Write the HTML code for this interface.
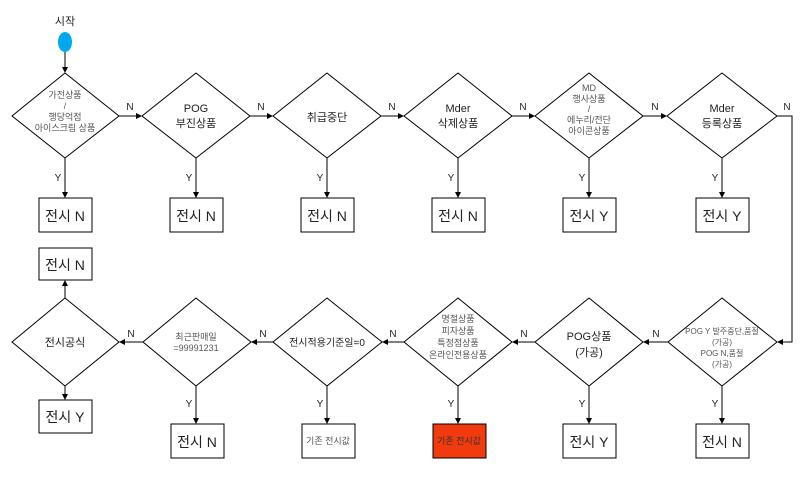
<!DOCTYPE html>
<html><head><meta charset="utf-8"><style>
body{margin:0;background:#fff;width:800px;height:500px;overflow:hidden}
svg{display:block}
text{font-family:"Liberation Sans","Noto Sans CJK KR",sans-serif;fill:#222;text-anchor:middle}
.s{font-size:9px;fill:#555}
.m{font-size:11px}
.b{font-size:14px}
.l{font-size:10px}
</style></head><body>
<svg width="800" height="500" viewBox="0 0 800 500" xmlns="http://www.w3.org/2000/svg">
<defs><marker id="a" markerWidth="6" markerHeight="6" refX="5" refY="3" orient="auto" markerUnits="userSpaceOnUse"><path d="M0,0 L6,3 L0,6z" fill="#000"/></marker></defs>
<g stroke="#000" stroke-width="1" fill="#fff">
<polygon points="65,73 119,116 65,158 12,116"/>
<polygon points="196,73 250,116 196,158 142,116"/>
<polygon points="327,73 381,116 327,158 273,116"/>
<polygon points="458,73 512,116 458,158 404,116"/>
<polygon points="589,73 643,116 589,158 535,116"/>
<polygon points="722,73 777,116 722,158 667,116"/>
<polygon points="722,298 777,342 722,386 668,342"/>
<polygon points="589,298 643,342 589,386 535,342"/>
<polygon points="458,298 512,342 458,386 404,342"/>
<polygon points="327,298 382,342 327,386 273,342"/>
<polygon points="196,298 251,342 196,386 143,342"/>
<polygon points="65,298 119,342 65,386 12,342"/>
<rect x="39" y="198" width="53" height="34"/>
<rect x="170" y="198" width="53" height="34"/>
<rect x="301" y="198" width="53" height="34"/>
<rect x="432" y="198" width="53" height="34"/>
<rect x="563" y="198" width="53" height="34"/>
<rect x="696" y="198" width="53" height="34"/>
<rect x="696" y="424" width="53" height="34"/>
<rect x="563" y="424" width="53" height="34"/>
<rect x="433" y="424" width="53" height="34" fill="#f23a0f"/>
<rect x="302" y="424" width="53" height="34"/>
<rect x="171" y="424" width="53" height="34"/>
<rect x="39" y="400" width="53" height="33"/>
<rect x="39" y="248" width="53" height="32"/>
</g>
<ellipse cx="65" cy="42" rx="7" ry="10" fill="#00a8f0"/>
<g stroke="#000" stroke-width="1" fill="none" marker-end="url(#a)">
<line x1="65" y1="52" x2="65" y2="72"/>
<line x1="119" y1="116" x2="141" y2="116"/>
<line x1="250" y1="116" x2="272" y2="116"/>
<line x1="381" y1="116" x2="403" y2="116"/>
<line x1="512" y1="116" x2="534" y2="116"/>
<line x1="643" y1="116" x2="666" y2="116"/>
<polyline points="777,116 792,116 792,342 778,342"/>
<line x1="65" y1="158" x2="65" y2="197"/>
<line x1="196" y1="158" x2="196" y2="197"/>
<line x1="327" y1="158" x2="327" y2="197"/>
<line x1="458" y1="158" x2="458" y2="197"/>
<line x1="589" y1="158" x2="589" y2="197"/>
<line x1="722" y1="158" x2="722" y2="197"/>
<line x1="668" y1="342" x2="644" y2="342"/>
<line x1="535" y1="342" x2="513" y2="342"/>
<line x1="404" y1="342" x2="383" y2="342"/>
<line x1="273" y1="342" x2="252" y2="342"/>
<line x1="143" y1="342" x2="120" y2="342"/>
<line x1="722" y1="386" x2="722" y2="423"/>
<line x1="589" y1="386" x2="589" y2="423"/>
<line x1="458" y1="386" x2="458" y2="423"/>
<line x1="327" y1="386" x2="327" y2="423"/>
<line x1="196" y1="386" x2="196" y2="423"/>
<line x1="65" y1="386" x2="65" y2="399"/>
<line x1="65" y1="298" x2="65" y2="281"/>
</g>
<text x="65" y="25" class="m">시작</text>
<text x="65" y="98" class="s">가전상품</text>
<text x="65" y="109" class="s">/</text>
<text x="65" y="120" class="s">행당억점</text>
<text x="65" y="131" class="s">아이스크림 상품</text>
<text x="196" y="112" class="m">POG</text>
<text x="196" y="127" class="m">부진상품</text>
<text x="327" y="121" class="m">취급중단</text>
<text x="458" y="112" class="m">Mder</text>
<text x="458" y="127" class="m">삭제상품</text>
<text x="589" y="91" class="s">MD</text>
<text x="589" y="102" class="s">행사상품</text>
<text x="589" y="112" class="s">/</text>
<text x="589" y="123" class="s">에누리/전단</text>
<text x="589" y="134" class="s">아이콘상품</text>
<text x="722" y="112" class="m">Mder</text>
<text x="722" y="127" class="m">등록상품</text>
<text x="722" y="334" class="s" style="font-size:8px">POG Y 발주중단,품절</text>
<text x="722" y="345" class="s" style="font-size:8px">(가공)</text>
<text x="722" y="356" class="s" style="font-size:8px">POG N,품절</text>
<text x="722" y="367" class="s" style="font-size:8px">(가공)</text>
<text x="589" y="340" class="m">POG상품</text>
<text x="589" y="356" class="m">(가공)</text>
<text x="458" y="322" class="s">명절상품</text>
<text x="458" y="334" class="s">피자상품</text>
<text x="458" y="346" class="s">특정점상품</text>
<text x="458" y="358" class="s">온라인전용상품</text>
<text x="327" y="346" class="l">전시적용기준일=0</text>
<text x="196" y="340" class="s">최근판매일</text>
<text x="196" y="351" class="s">=99991231</text>
<text x="65" y="346" class="m">전시공식</text>
<text x="65" y="221" class="b">전시 N</text>
<text x="196" y="221" class="b">전시 N</text>
<text x="327" y="221" class="b">전시 N</text>
<text x="458" y="221" class="b">전시 N</text>
<text x="589" y="221" class="b">전시 Y</text>
<text x="722" y="221" class="b">전시 Y</text>
<text x="722" y="447" class="b">전시 N</text>
<text x="589" y="447" class="b">전시 Y</text>
<text x="459" y="444" class="s" style="fill:#333">기존 전시값</text>
<text x="328" y="444" class="s">기존 전시값</text>
<text x="197" y="447" class="b">전시 N</text>
<text x="65" y="422" class="b">전시 Y</text>
<text x="65" y="270" class="b">전시 N</text>
<g class="l">
<text x="130" y="110">N</text><text x="261" y="110">N</text><text x="392" y="110">N</text><text x="523" y="110">N</text><text x="655" y="110">N</text><text x="787" y="110">N</text>
<text x="656" y="337">N</text><text x="524" y="337">N</text><text x="393" y="337">N</text><text x="263" y="337">N</text><text x="131" y="337">N</text>
<text x="58" y="181">Y</text><text x="189" y="181">Y</text><text x="320" y="181">Y</text><text x="451" y="181">Y</text><text x="582" y="181">Y</text><text x="715" y="181">Y</text>
<text x="715" y="407">Y</text><text x="582" y="407">Y</text><text x="451" y="407">Y</text><text x="320" y="407">Y</text><text x="189" y="407">Y</text>
</g>
</svg>
</body></html>
